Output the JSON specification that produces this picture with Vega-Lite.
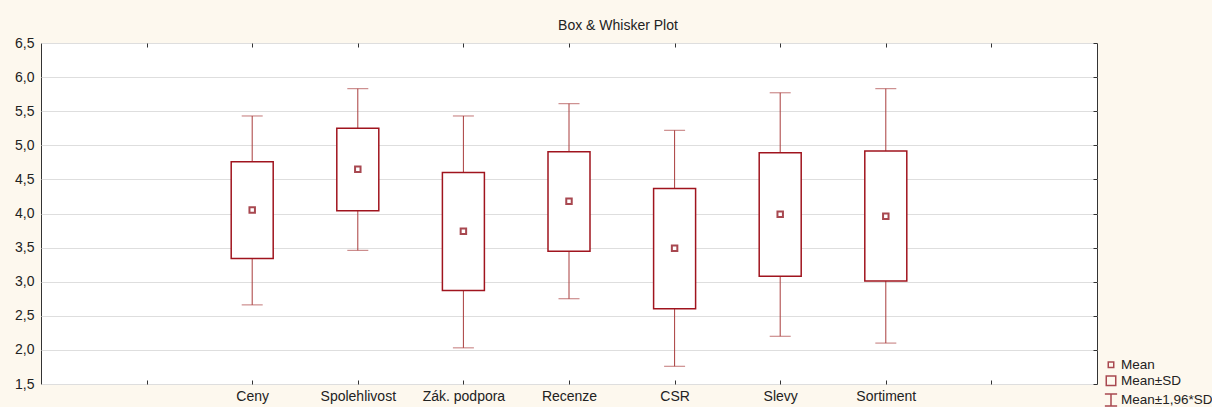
{
  "$schema": "https://vega.github.io/schema/vega-lite/v6.json",
  "width": 1056,
  "height": 341,
  "autosize": {"type": "none"},
  "padding": {"left": 41, "top": 43, "right": 115, "bottom": 23},
  "background": "#fdf8ee",
  "title": {
    "text": "Box & Whisker Plot",
    "fontSize": 14,
    "font": "Liberation Sans",
    "fontWeight": "normal",
    "color": "#222222",
    "anchor": "middle",
    "dx": 49,
    "offset": 3
  },
  "config": {
    "view": {"stroke": "#333333", "strokeWidth": 1, "fill": "white"},
    "font": "Liberation Sans"
  },
  "resolve": {"axis": {"x": "independent", "y": "independent"}},
  "data": {
    "values": [
      {"var": "Ceny", "stat": "Mean", "mean": 4.05, "sdLo": 3.34, "sdHi": 4.76, "wLo": 2.66, "wHi": 5.43},
      {"var": "Spolehlivost", "stat": "Mean", "mean": 4.65, "sdLo": 4.04, "sdHi": 5.25, "wLo": 3.46, "wHi": 5.83},
      {"var": "Zák. podpora", "stat": "Mean", "mean": 3.74, "sdLo": 2.87, "sdHi": 4.60, "wLo": 2.03, "wHi": 5.43},
      {"var": "Recenze", "stat": "Mean", "mean": 4.18, "sdLo": 3.445, "sdHi": 4.905, "wLo": 2.75, "wHi": 5.61},
      {"var": "CSR", "stat": "Mean", "mean": 3.49, "sdLo": 2.605, "sdHi": 4.365, "wLo": 1.76, "wHi": 5.22},
      {"var": "Slevy", "stat": "Mean", "mean": 3.99, "sdLo": 3.08, "sdHi": 4.89, "wLo": 2.20, "wHi": 5.77},
      {"var": "Sortiment", "stat": "Mean", "mean": 3.96, "sdLo": 3.01, "sdHi": 4.915, "wLo": 2.10, "wHi": 5.83}
    ]
  },
  "layer": [
    {
      "mark": {"type": "rule", "color": "#a83c3c", "strokeWidth": 1},
      "encoding": {
        "x": {
          "field": "var",
          "type": "nominal",
          "sort": null,
          "scale": {
            "type": "point",
            "domain": [" ", "Ceny", "Spolehlivost", "Zák. podpora", "Recenze", "CSR", "Slevy", "Sortiment", "  "],
            "padding": 1
          },
          "axis": {
            "title": null,
            "labelAngle": 0,
            "labelFontSize": 14,
            "labelColor": "#222222",
            "labelPadding": 9,
            "tickSize": -4,
            "tickColor": "#333333",
            "domain": false,
            "grid": false
          }
        },
        "y": {
          "field": "wLo",
          "type": "quantitative",
          "scale": {"domain": [1.5, 6.5], "nice": false, "zero": false},
          "axis": {
            "title": null,
            "values": [1.5, 2, 2.5, 3, 3.5, 4, 4.5, 5, 5.5, 6, 6.5],
            "tickCount": 20,
            "labelExpr": "replace(format(datum.value, '.1f'), '.', ',')",
            "labelOverlap": false,
            "labelFontSize": 14,
            "labelColor": "#222222",
            "labelPadding": 7,
            "ticks": false,
            "domain": false,
            "grid": true,
            "gridColor": "#dedede",
            "gridWidth": 1
          }
        },
        "y2": {"field": "wHi"}
      }
    },
    {
      "mark": {"type": "tick", "color": "#a83c3c", "size": 21, "thickness": 1, "orient": "horizontal"},
      "encoding": {
        "x": {
          "field": "var",
          "type": "nominal",
          "sort": null,
          "axis": {
            "orient": "top",
            "title": null,
            "labels": false,
            "tickSize": -4,
            "tickColor": "#333333",
            "domain": false,
            "grid": false
          }
        },
        "y": {
          "field": "wLo",
          "type": "quantitative",
          "axis": {
            "orient": "right",
            "title": null,
            "values": [1.5, 2, 2.5, 3, 3.5, 4, 4.5, 5, 5.5, 6, 6.5],
            "tickCount": 20,
            "labels": false,
            "tickSize": -4,
            "tickColor": "#333333",
            "domain": false,
            "grid": false
          }
        }
      }
    },
    {
      "mark": {"type": "tick", "color": "#a83c3c", "size": 21, "thickness": 1, "orient": "horizontal"},
      "encoding": {
        "x": {"field": "var", "type": "nominal", "sort": null, "axis": null},
        "y": {"field": "wHi", "type": "quantitative", "axis": null}
      }
    },
    {
      "mark": {"type": "bar", "fill": "white", "stroke": "#a0141e", "strokeWidth": 1.5, "size": 42},
      "encoding": {
        "x": {"field": "var", "type": "nominal", "sort": null, "axis": null},
        "y": {"field": "sdLo", "type": "quantitative", "axis": null},
        "y2": {"field": "sdHi"}
      }
    },
    {
      "mark": {"type": "point", "filled": false, "strokeWidth": 2, "opacity": 1, "color": "#a84850"},
      "encoding": {
        "x": {"field": "var", "type": "nominal", "sort": null, "axis": null},
        "y": {"field": "mean", "type": "quantitative", "axis": null},
        "size": {
          "field": "stat",
          "type": "nominal",
          "scale": {
            "domain": ["Mean", "Mean±SD", "Mean±1,96*SD"],
            "range": [30, 150, 150]
          },
          "legend": {
            "title": null,
            "orient": "none",
            "legendX": 1063,
            "legendY": 315
          }
        },
        "shape": {
          "field": "stat",
          "type": "nominal",
          "scale": {
            "domain": ["Mean", "Mean±SD", "Mean±1,96*SD"],
            "range": ["square", "square", "M-1,-1H1M0,-1V1M-1,1H1"]
          },
          "legend": {
            "title": null,
            "orient": "none",
            "legendX": 1063,
            "legendY": 315,
            "labelFontSize": 13.5,
            "labelColor": "#222222",
            "labelOffset": 3,
            "rowPadding": 1,
            "symbolStrokeColor": "#a83c3c",
            "symbolFillColor": "transparent"
          }
        }
      }
    }
  ]
}
